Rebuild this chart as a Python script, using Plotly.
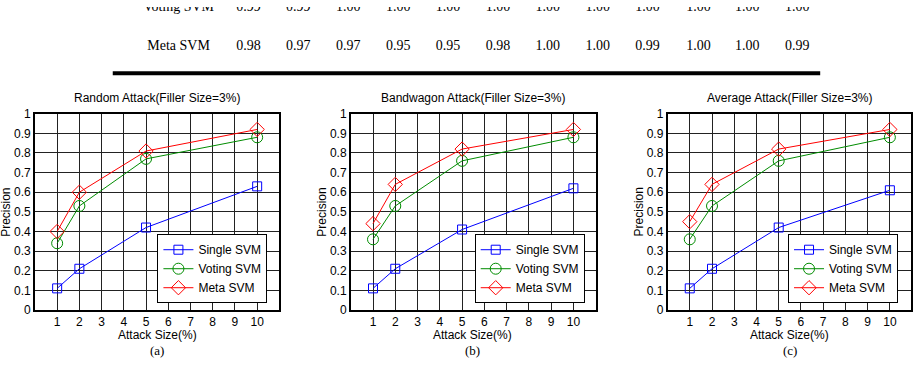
import plotly.graph_objects as go

W, H = 913, 366

# ---------------- data ----------------
attack_sizes = [1, 2, 5, 10]
series_names = ["Single SVM", "Voting SVM", "Meta SVM"]

random_single = [0.11, 0.21, 0.42, 0.63]
random_voting = [0.34, 0.53, 0.77, 0.88]
random_meta = [0.40, 0.60, 0.81, 0.92]

bandwagon_single = [0.11, 0.21, 0.41, 0.62]
bandwagon_voting = [0.36, 0.53, 0.76, 0.88]
bandwagon_meta = [0.44, 0.64, 0.82, 0.92]

average_single = [0.11, 0.21, 0.42, 0.61]
average_voting = [0.36, 0.53, 0.76, 0.88]
average_meta = [0.45, 0.64, 0.82, 0.92]

panel_titles = ["Random Attack(Filler Size=3%)",
                "Bandwagon Attack(Filler Size=3%)",
                "Average Attack(Filler Size=3%)"]
panel_letters = ["(a)", "(b)", "(c)"]

y_ticks = [0, 0.1, 0.2, 0.3, 0.4, 0.5, 0.6, 0.7, 0.8, 0.9, 1]
y_tick_labels = ["0", "0.1", "0.2", "0.3", "0.4", "0.5", "0.6", "0.7", "0.8", "0.9", "1"]
x_ticks = [1, 2, 3, 4, 5, 6, 7, 8, 9, 10]

table_rows = ["Voting SVM", "Meta SVM"]
voting_row = ["0.99", "0.99", "1.00", "1.00", "1.00", "1.00", "1.00", "1.00", "1.00", "1.00", "1.00", "1.00"]
meta_row = ["0.98", "0.97", "0.97", "0.95", "0.95", "0.98", "1.00", "1.00", "0.99", "1.00", "1.00", "0.99"]

# ---------------- style ----------------
colors = ["#0000ff", "#008c00", "#ff0000"]
symbols = ["square-open", "circle-open", "diamond-open"]
msizes = [9, 11, 11]
SANS = "Liberation Sans, Arial, sans-serif"
SERIF = "Liberation Serif, Times New Roman, serif"

def px_x(x):
    return x / W

def px_y(y):
    return (H - y) / H

panels = [
    (random_single, random_voting, random_meta),
    (bandwagon_single, bandwagon_voting, bandwagon_meta),
    (average_single, average_voting, average_meta),
]
# pixel boxes: (left, right, xmax)
boxes = [(35, 280, 11), (351.5, 597, 11), (669, 913, 10.95)]
top, bottom = 111, 315
legend_right = [268, 586, 900]
legend_bottom = 308

fig = go.Figure()
layout = dict(
    width=W, height=H,
    margin=dict(l=0, r=0, t=0, b=0),
    paper_bgcolor="white", plot_bgcolor="rgba(0,0,0,0)",
    font=dict(family=SANS, size=12, color="black"),
    annotations=[], shapes=[],
)

for i, (data, (l, r, xmax)) in enumerate(zip(panels, boxes)):
    n = "" if i == 0 else str(i + 1)
    lg = "legend" if i == 0 else f"legend{i + 1}"
    for k in range(3):
        fig.add_trace(go.Scatter(
            x=attack_sizes, y=data[k], name=series_names[k],
            mode="lines+markers",
            line=dict(color=colors[k], width=1),
            marker=dict(symbol=symbols[k], size=msizes[k], color=colors[k],
                        line=dict(width=1, color=colors[k])),
            xaxis=f"x{n}", yaxis=f"y{n}", legend=lg, showlegend=True,
        ))
    layout[f"xaxis{n}"] = dict(
        domain=[px_x(l), px_x(r)], range=[0, xmax], anchor=f"y{n}",
        tickmode="array", tickvals=x_ticks, ticks="",
        showgrid=True, gridcolor="#222222", gridwidth=1,
        showline=True, linecolor="black", linewidth=1.5, mirror=True,
        zeroline=False, tickfont=dict(size=12, family=SANS),
    )
    layout[f"yaxis{n}"] = dict(
        domain=[px_y(bottom), px_y(top)], range=[0, 1], anchor=f"x{n}",
        tickmode="array", tickvals=y_ticks, ticktext=y_tick_labels, ticks="",
        showgrid=True, gridcolor="#222222", gridwidth=1,
        showline=True, linecolor="black", linewidth=1.5, mirror=True,
        zeroline=False, tickfont=dict(size=12, family=SANS),
    )
    layout[lg] = dict(
        x=px_x(legend_right[i]), y=px_y(legend_bottom),
        xanchor="right", yanchor="bottom",
        bgcolor="white", bordercolor="black", borderwidth=1,
        font=dict(size=12, family=SANS), tracegroupgap=0,
        itemwidth=30,
    )
    cx = (l + (l + 245)) / 2
    layout["annotations"] += [
        dict(text=panel_titles[i], x=px_x(cx), y=px_y(95), xref="paper", yref="paper",
             showarrow=False, xanchor="center", yanchor="middle",
             font=dict(size=12, family=SANS)),
        dict(text="Attack Size(%)", x=px_x(cx), y=px_y(341), xref="paper", yref="paper",
             showarrow=False, xanchor="center", yanchor="middle",
             font=dict(size=12, family=SANS)),
        dict(text=panel_letters[i], x=px_x(cx), y=px_y(357), xref="paper", yref="paper",
             showarrow=False, xanchor="center", yanchor="middle",
             font=dict(size=13, family=SERIF)),
        dict(text="Precision", x=px_x(l - 29), y=px_y((top + bottom) / 2),
             xref="paper", yref="paper", showarrow=False, textangle=-90,
             xanchor="center", yanchor="middle", font=dict(size=12, family=SANS)),
    ]

# ---------------- table fragment (top, partly cut off by the page edge) ----------------
label_col_x = 179
col_x = [249, 299, 349, 399, 449, 499, 549, 599, 649, 700, 749, 799]
row_y = [1, 41]
tx, ty, tt = [], [], []
for rname, vals, ry in zip(table_rows, [voting_row, meta_row], row_y):
    tx.append(label_col_x); ty.append(ry); tt.append(rname)
    for cxp, v in zip(col_x, vals):
        tx.append(cxp); ty.append(ry); tt.append(v)
fig.add_trace(go.Scatter(
    x=tx, y=ty, text=tt, mode="text", textposition="middle center",
    textfont=dict(size=14, family=SERIF, color="black"),
    xaxis="x4", yaxis="y4", showlegend=False, hoverinfo="skip", cliponaxis=True,
))
layout["xaxis4"] = dict(domain=[0, 1], range=[0, W], anchor="y4", visible=False,
                        showgrid=False, zeroline=False, fixedrange=True)
layout["yaxis4"] = dict(domain=[0, 1], range=[H, 0], anchor="x4", visible=False,
                        showgrid=False, zeroline=False, fixedrange=True)
layout["shapes"].append(dict(
    type="line", xref="paper", yref="paper",
    x0=px_x(113), x1=px_x(822), y0=px_y(69), y1=px_y(69),
    line=dict(color="black", width=4)))

fig.update_layout(**layout)
fig.write_html("out.html")
